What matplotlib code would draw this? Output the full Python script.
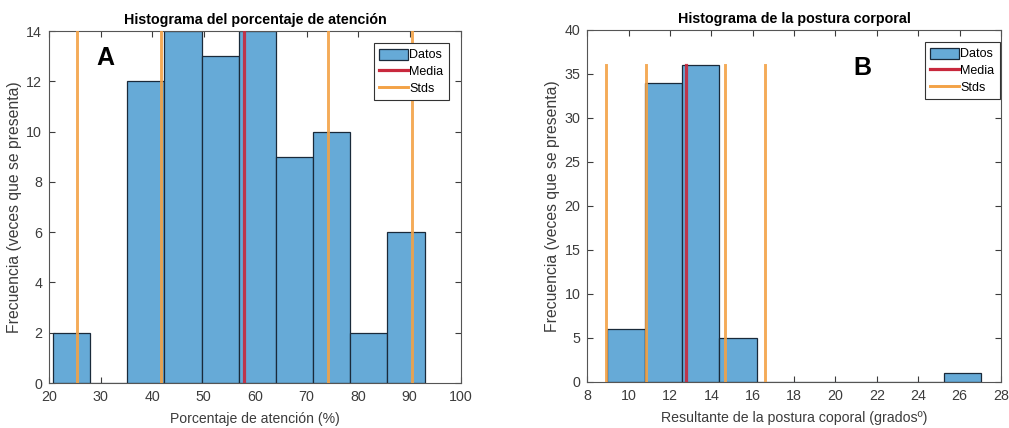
import numpy as np
import matplotlib.pyplot as plt
from matplotlib.patches import Patch
from matplotlib.lines import Line2D

# Histograma A: porcentaje de atencion
edges_a = [20.8, 28.0, 35.2, 42.4, 49.7, 56.9, 64.1, 71.3, 78.5, 85.7, 93.0]
counts_a = [2, 0, 12, 14, 13, 14, 9, 10, 2, 6]
media_a = 57.9
stds_a = [25.4, 41.7, 74.2, 90.4]
alto_lineas_a = 14

# Histograma B: postura corporal
edges_b = [8.95, 10.77, 12.58, 14.39, 16.2, 18.01, 19.82, 21.63, 23.44, 25.25, 27.06]
counts_b = [6, 34, 36, 5, 0, 0, 0, 0, 0, 1]
media_b = 12.76
stds_b = [8.92, 10.84, 14.68, 16.6]
alto_lineas_b = 36

bar_color = '#66aad7'
red = '#c8283c'
orange = '#f3a246'
axis_color = '#3c3c3c'

plt.rcParams['font.family'] = ['Liberation Sans', 'DejaVu Sans']

fig = plt.figure(figsize=(10.09, 4.28), dpi=100)
ax1 = fig.add_axes([0.0486, 0.105, 0.4083, 0.8225])
ax2 = fig.add_axes([0.582, 0.1075, 0.410, 0.8225])


def draw_hist(ax, edges, counts, media, stds, alto, leg_anchor):
    e = np.array(edges)
    ax.bar(e[:-1], counts, width=np.diff(e), align='edge', color=bar_color,
           edgecolor='#1a2a3a', linewidth=0.9, zorder=2)
    for s in stds:
        ax.plot([s, s], [0, alto], color=orange, linewidth=2.1, alpha=0.9, zorder=3)
    ax.plot([media, media], [0, alto], color=red, linewidth=2.3, alpha=0.9, zorder=4)
    ax.tick_params(direction='in', top=True, right=True, labelsize=10.3,
                   colors=axis_color, length=4, width=0.8, pad=5)
    for sp in ax.spines.values():
        sp.set_color('#555555')
        sp.set_linewidth(0.8)
    handles = [Patch(facecolor=bar_color, edgecolor='#1a2a3a', linewidth=0.9),
               Line2D([], [], color=red, linewidth=2.3),
               Line2D([], [], color=orange, linewidth=2.1)]
    leg = ax.legend(handles, ['Datos', 'Media', 'Stds'], loc='upper right',
                    bbox_to_anchor=leg_anchor, borderaxespad=0,
                    fontsize=9, fancybox=False, framealpha=1,
                    borderpad=0.45, labelspacing=0.3, handlelength=2.3,
                    handleheight=1.0, handletextpad=0.1)
    leg.get_frame().set_edgecolor('#333333')
    leg.get_frame().set_linewidth(0.8)
    ax.set_ylabel('Frecuencia (veces que se presenta)', fontsize=11.3,
                  color=axis_color, labelpad=3)


draw_hist(ax1, edges_a, counts_a, media_a, stds_a, alto_lineas_a, (0.971, 0.966))
ax1.set_xlim(20, 100)
ax1.set_ylim(0, 14)
ax1.set_xticks(range(20, 101, 10))
ax1.set_yticks(range(0, 15, 2))
ax1.set_title('Histograma del porcentaje de atención', fontsize=10.3,
              fontweight='bold', pad=5)
ax1.set_xlabel('Porcentaje de atención (%)', fontsize=10.1, color=axis_color,
               labelpad=5.5)
ax1.text(0.136, 0.923, 'A', transform=ax1.transAxes, fontsize=18,
         fontweight='bold', ha='center', va='center')

draw_hist(ax2, edges_b, counts_b, media_b, stds_b, alto_lineas_b, (0.9975, 0.966))
ax2.set_xlim(8, 28)
ax2.set_ylim(0, 40)
ax2.set_xticks(range(8, 29, 2))
ax2.set_yticks(range(0, 41, 5))
ax2.set_title('Histograma de la postura corporal', fontsize=10.3,
              fontweight='bold', pad=5)
ax2.set_xlabel('Resultante de la postura coporal (gradosº)', fontsize=10.2,
               color=axis_color, labelpad=5.5)
ax2.text(0.664, 0.892, 'B', transform=ax2.transAxes, fontsize=18,
         fontweight='bold', ha='center', va='center')

fig.savefig('out.png', dpi=100)
